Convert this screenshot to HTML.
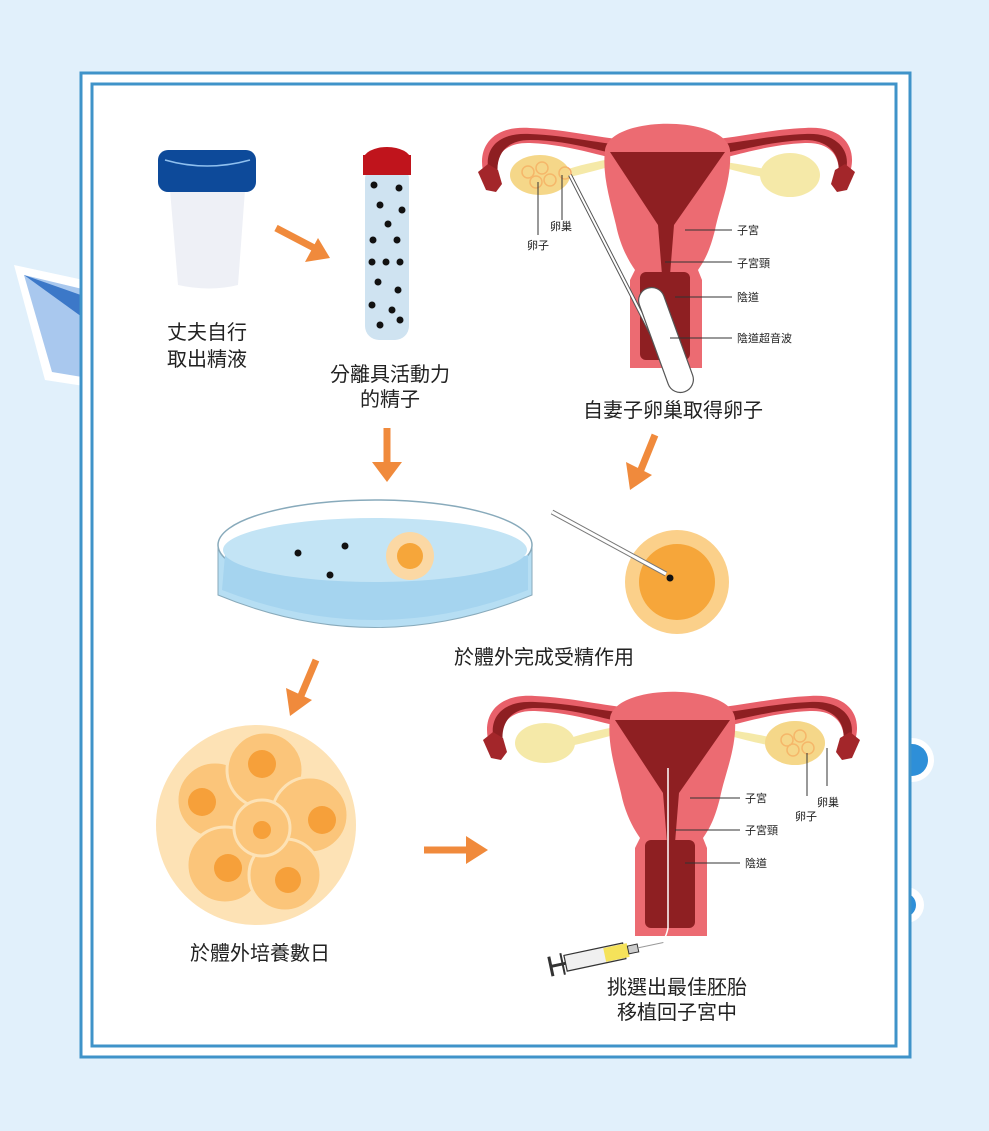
<!DOCTYPE html>
<html><head><meta charset="utf-8"><style>
html,body{margin:0;padding:0;background:#e1f0fb;}
svg{display:block}
text{font-family:"Liberation Sans","Noto Sans CJK TC",sans-serif;fill:#222}
</style></head><body>
<svg width="989" height="1131" viewBox="0 0 989 1131" xmlns="http://www.w3.org/2000/svg">
<defs>
<g id="ut">
 <path d="M15,68 C5,40 20,15 60,18 C110,20 150,35 197,30 C245,35 285,20 335,18 C375,15 390,40 378,68 L368,70 C372,48 362,32 335,33 C290,35 255,50 230,52 L165,52 C140,50 105,35 60,33 C33,32 22,48 26,70 Z" fill="#e8606a"/>
 <path d="M20,66 C12,42 25,22 60,24 C110,26 150,40 197,36 C245,40 285,26 335,24 C368,22 384,42 374,66 L368,66 C372,46 360,30 335,30 C290,32 255,46 230,46 L165,46 C140,46 105,30 60,30 C35,30 25,46 28,66 Z" fill="#8e1f22"/>
 <path d="M8,62 l10,-8 l10,6 l4,14 l-6,8 l-10,-2 z" fill="#a3262a"/>
 <path d="M385,62 l-10,-8 l-10,6 l-4,14 l6,8 l10,-2 z" fill="#a3262a"/>
 <ellipse cx="70" cy="65" rx="30" ry="20" fill="#f5e9a8"/>
 <path d="M95,60 C110,55 125,52 135,50 L135,58 C120,62 105,66 95,68Z" fill="#f5e9a8"/>
 <ellipse cx="320" cy="65" rx="30" ry="22" fill="#f5e9a8"/>
 <path d="M255,52 C275,55 290,58 300,60 L300,68 C285,66 270,62 255,58Z" fill="#f5e9a8"/>
 <path d="M135,40 C140,5 255,5 260,40 C262,70 250,95 245,120 C240,140 235,150 228,160 L232,170 L232,258 L160,258 L160,170 L165,160 C158,150 150,135 146,115 C140,90 132,65 135,40Z" fill="#ec6b72"/>
 <path d="M140,42 L255,42 L204,115 L200,165 L192,165 L188,115 Z" fill="#8e1f22"/>
 <rect x="170" y="162" width="50" height="88" rx="6" fill="#8e1f22"/>
</g>
</defs>

<polygon points="14,265 130,290 110,390 45,380" fill="#fff"/>
<polygon points="24,275 120,298 100,380 52,372" fill="#a9c8ee"/>
<polygon points="24,275 100,330 95,300" fill="#3c78c8"/>
<circle cx="912" cy="760" r="22" fill="#fff"/><circle cx="912" cy="760" r="16" fill="#2e8fd8"/>
<circle cx="906" cy="905" r="18" fill="#fff"/><circle cx="904" cy="905" r="12" fill="#2e8fd8"/>

<rect x="81" y="73" width="829" height="984" fill="#fff" stroke="#3f93c9" stroke-width="3"/>
<rect x="92" y="84" width="804" height="962" fill="#fff" stroke="#3f93c9" stroke-width="3"/>

<path d="M170,190 L245,190 L238,285 Q210,292 178,285 Z" fill="#eef0f6"/>
<rect x="158" y="150" width="98" height="42" rx="10" fill="#0d4a9a"/>
<path d="M165,160 Q207,172 250,160" stroke="#8fc0ef" stroke-width="1.5" fill="none"/>
<text x="207" y="339" font-size="20" text-anchor="middle">丈夫自行</text>
<text x="207" y="366" font-size="20" text-anchor="middle">取出精液</text>

<path d="M276,228 L318,250" stroke="#f08a3c" stroke-width="7"/>
<polygon points="330,258 305,262 318,238" fill="#f08a3c"/>

<rect x="365" y="165" width="44" height="175" rx="14" fill="#cfe3f1"/>
<ellipse cx="387" cy="160" rx="24" ry="13" fill="#c0141c"/>
<rect x="363" y="155" width="48" height="20" fill="#c0141c"/>
<g fill="#111">
<circle cx="374" cy="185" r="3.5"/><circle cx="399" cy="188" r="3.5"/><circle cx="380" cy="205" r="3.5"/><circle cx="402" cy="210" r="3.5"/><circle cx="388" cy="224" r="3.5"/><circle cx="373" cy="240" r="3.5"/><circle cx="397" cy="240" r="3.5"/><circle cx="386" cy="262" r="3.5"/><circle cx="372" cy="262" r="3.5"/><circle cx="400" cy="262" r="3.5"/><circle cx="378" cy="282" r="3.5"/><circle cx="398" cy="290" r="3.5"/><circle cx="372" cy="305" r="3.5"/><circle cx="392" cy="310" r="3.5"/><circle cx="380" cy="325" r="3.5"/><circle cx="400" cy="320" r="3.5"/>
</g>
<text x="390" y="381" font-size="20" text-anchor="middle">分離具活動力</text>
<text x="390" y="406" font-size="20" text-anchor="middle">的精子</text>

<g transform="translate(470,110)"><use href="#ut"/>
<g fill="none" stroke="#f5a96a" stroke-width="1.5"><circle cx="58" cy="62" r="6"/><circle cx="72" cy="58" r="6"/><circle cx="66" cy="72" r="6"/><circle cx="80" cy="70" r="6"/><circle cx="95" cy="63" r="6"/></g>
<ellipse cx="70" cy="65" rx="30" ry="20" fill="#f6c56a" opacity="0.5"/>
<line x1="100" y1="65" x2="205" y2="270" stroke="#555" stroke-width="4"/><line x1="100" y1="65" x2="205" y2="270" stroke="#fff" stroke-width="2"/>
<rect x="183" y="175" width="26" height="110" rx="13" transform="rotate(-20 196 230)" fill="#fff" stroke="#555" stroke-width="1.2"/>
<g stroke="#333" stroke-width="1"><line x1="68" y1="72" x2="68" y2="125"/><line x1="92" y1="65" x2="92" y2="110"/>
<line x1="215" y1="120" x2="262" y2="120"/><line x1="195" y1="152" x2="262" y2="152"/><line x1="205" y1="187" x2="262" y2="187"/><line x1="200" y1="228" x2="262" y2="228"/></g>
<text x="80" y="120" font-size="11">卵巢</text><text x="57" y="139" font-size="11">卵子</text>
<text x="267" y="124" font-size="11">子宮</text><text x="267" y="157" font-size="11">子宮頸</text><text x="267" y="191" font-size="11">陰道</text><text x="267" y="232" font-size="11">陰道超音波</text>
</g>
<text x="673" y="417" font-size="20" text-anchor="middle">自妻子卵巢取得卵子</text>

<path d="M387,428 L387,468" stroke="#f08a3c" stroke-width="7"/><polygon points="372,462 402,462 387,482" fill="#f08a3c"/>
<path d="M655,435 L640,472" stroke="#f08a3c" stroke-width="7"/><polygon points="626,462 652,475 630,490" fill="#f08a3c"/>

<path d="M218,545 L218,595 Q375,660 532,595 L532,545 Z" fill="#b6def3" stroke="#8ab" stroke-width="1"/>
<ellipse cx="375" cy="545" rx="157" ry="45" fill="#fff" stroke="#8ab" stroke-width="1.5"/>
<path d="M225,555 Q375,600 528,555 L528,590 Q375,650 222,590 Z" fill="#a5d4ef"/>
<ellipse cx="375" cy="550" rx="152" ry="32" fill="#c3e4f5"/>
<circle cx="410" cy="556" r="24" fill="#fbd8a4"/><circle cx="410" cy="556" r="13" fill="#f6a63a"/>
<g fill="#111"><circle cx="298" cy="553" r="3.5"/><circle cx="345" cy="546" r="3.5"/><circle cx="330" cy="575" r="3.5"/></g>
<circle cx="677" cy="582" r="52" fill="#fbd08a"/><circle cx="677" cy="582" r="38" fill="#f6a63a"/>
<line x1="552" y1="512" x2="666" y2="574" stroke="#777" stroke-width="5"/><line x1="552" y1="512" x2="666" y2="574" stroke="#fff" stroke-width="3"/>
<circle cx="670" cy="578" r="3.5" fill="#111"/>
<text x="544" y="664" font-size="20" text-anchor="middle">於體外完成受精作用</text>

<path d="M316,660 L300,698" stroke="#f08a3c" stroke-width="7"/><polygon points="286,688 312,700 290,716" fill="#f08a3c"/>

<circle cx="256" cy="825" r="100" fill="#fde2b5"/>
<g fill="#fbc57a" stroke="#fde2b5" stroke-width="3">
<circle cx="215" cy="800" r="38"/><circle cx="265" cy="770" r="38"/><circle cx="310" cy="815" r="38"/><circle cx="225" cy="865" r="38"/><circle cx="285" cy="875" r="36"/><circle cx="262" cy="828" r="28"/>
</g>
<g fill="#f6a03a"><circle cx="202" cy="802" r="14"/><circle cx="262" cy="764" r="14"/><circle cx="322" cy="820" r="14"/><circle cx="228" cy="868" r="14"/><circle cx="288" cy="880" r="13"/><circle cx="262" cy="830" r="9"/></g>
<text x="260" y="960" font-size="20" text-anchor="middle">於體外培養數日</text>

<path d="M424,850 L470,850" stroke="#f08a3c" stroke-width="7"/><polygon points="466,836 488,850 466,864" fill="#f08a3c"/>

<g transform="translate(475,678)"><use href="#ut"/>
<g fill="none" stroke="#f5a96a" stroke-width="1.5"><circle cx="312" cy="62" r="6"/><circle cx="325" cy="58" r="6"/><circle cx="318" cy="72" r="6"/><circle cx="333" cy="70" r="6"/></g>
<ellipse cx="320" cy="65" rx="30" ry="22" fill="#f6c56a" opacity="0.5"/>
<path d="M193,90 L193,250 Q190,265 180,270" stroke="#fff" stroke-width="1.5" fill="none"/>
<g stroke="#333" stroke-width="1"><line x1="215" y1="120" x2="265" y2="120"/><line x1="200" y1="152" x2="265" y2="152"/><line x1="210" y1="185" x2="265" y2="185"/><line x1="332" y1="75" x2="332" y2="118"/><line x1="352" y1="70" x2="352" y2="108"/></g>
<text x="270" y="124" font-size="11">子宮</text><text x="270" y="156" font-size="11">子宮頸</text><text x="270" y="189" font-size="11">陰道</text>
<text x="342" y="128" font-size="11">卵巢</text><text x="320" y="142" font-size="11">卵子</text>
</g>

<g transform="rotate(-12 600 957)">
<rect x="565" y="948" width="60" height="16" fill="#f0f0f0" stroke="#333" stroke-width="1.2"/>
<rect x="605" y="949" width="24" height="14" fill="#f5e25a"/>
<rect x="629" y="952" width="10" height="8" fill="#ccc" stroke="#333"/>
<line x1="550" y1="956" x2="565" y2="956" stroke="#333" stroke-width="3"/>
<line x1="550" y1="946" x2="550" y2="966" stroke="#333" stroke-width="3"/>
<line x1="562" y1="945" x2="562" y2="967" stroke="#333" stroke-width="2"/>
<line x1="639" y1="956" x2="665" y2="956" stroke="#999" stroke-width="1"/>
</g>
<text x="677" y="994" font-size="20" text-anchor="middle">挑選出最佳胚胎</text>
<text x="677" y="1019" font-size="20" text-anchor="middle">移植回子宮中</text>
</svg>
</body></html>
